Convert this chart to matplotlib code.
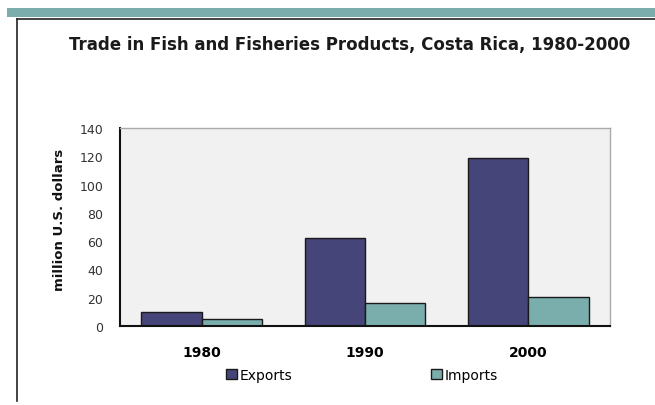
import matplotlib
matplotlib.use("Agg")
import matplotlib.pyplot as plt
from matplotlib.patches import Rectangle
from matplotlib.lines import Line2D
import numpy as np

# data
years = ['1980', '1990', '2000']
exports = [10, 62, 118.5]
imports = [5, 16, 20.5]
yticks = [0, 20, 40, 60, 80, 100, 120, 140]

export_color = '#45457a'
import_color = '#79aeac'

W, H = 655, 406
fig = plt.figure(figsize=(W / 100, H / 100), dpi=100)
fig.patch.set_facecolor('white')

# frame decorations: teal band on top, dark border line left/top
fig.add_artist(Rectangle((7 / W, 1 - 18 / H), 1 - 7 / W, 9 / H,
                         transform=fig.transFigure, color='#7aadab', lw=0))
fig.add_artist(Line2D([17 / W, 1], [1 - 19.5 / H, 1 - 19.5 / H],
                      transform=fig.transFigure, color='#222222', lw=1.2))
fig.add_artist(Line2D([17 / W, 17 / W], [1 - 19.5 / H, 1 - 402 / H],
                      transform=fig.transFigure, color='#222222', lw=1.2))

# plot area
left, right, top, bottom = 120, 610, 129, 327
ax = fig.add_axes([left / W, 1 - bottom / H, (right - left) / W, (bottom - top) / H])
ax.set_facecolor('#f1f1f1')

x = np.arange(len(years))
w = 0.37
ax.bar(x - w / 2, exports, w, color=export_color, edgecolor='#1a1a1a', lw=1.0, label='Exports')
ax.bar(x + w / 2, imports, w, color=import_color, edgecolor='#1a1a1a', lw=1.0, label='Imports')

ax.set_xlim(-0.5, 2.5)
ax.set_ylim(0, 140)
ax.set_yticks(yticks)
ax.set_yticklabels([str(v) for v in yticks], fontsize=9, color='#333333')
ax.set_xticks(x)
ax.set_xticklabels(years, fontsize=10, fontweight='bold')
ax.tick_params(axis='x', length=0, pad=14)
ax.tick_params(axis='y', length=0, pad=12)

for s in ['left', 'bottom']:
    ax.spines[s].set_linewidth(1.5)
    ax.spines[s].set_color('#111111')
for s in ['top', 'right']:
    ax.spines[s].set_linewidth(1.0)
    ax.spines[s].set_color('#aaaaaa')

fig.text(60 / W, 1 - 220 / H, 'million U.S. dollars', rotation=90, ha='center', va='center',
         fontsize=9.5, fontweight='bold', color='#111111')

fig.text(350 / W, 1 - 45 / H, 'Trade in Fish and Fisheries Products, Costa Rica, 1980-2000',
         ha='center', va='center', fontsize=12, fontweight='bold', color='#1a1a1a')

leg = fig.legend(loc='center', bbox_to_anchor=(362 / W, 1 - 376 / H), ncol=2, frameon=False,
                 fontsize=10, handlelength=0.8, handleheight=0.8, handletextpad=0.2,
                 columnspacing=10)

fig.savefig('out.png', dpi=100)
